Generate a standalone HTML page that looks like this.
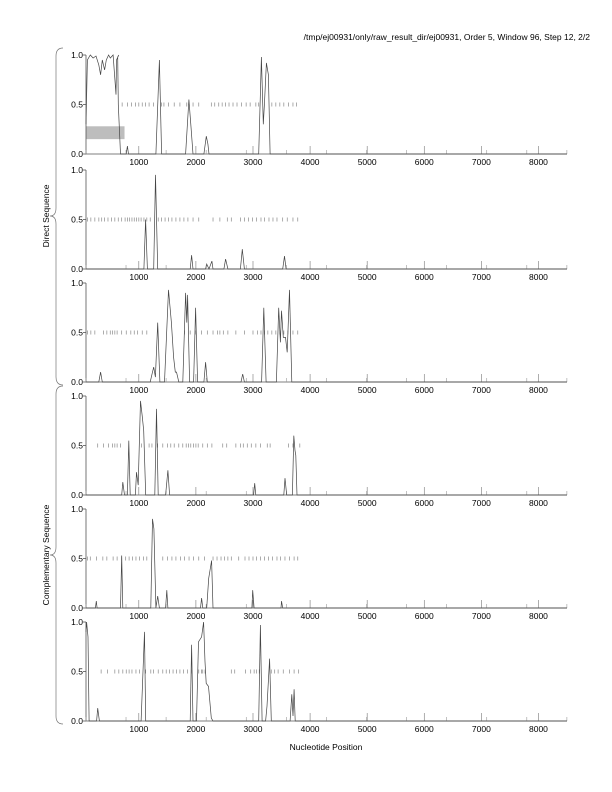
<!DOCTYPE html>
<html><head><meta charset="utf-8"><style>
html,body{margin:0;padding:0;background:#fff;}
svg{display:block;font-family:"Liberation Sans",sans-serif;}
</style></head><body>
<svg id="c" width="612" height="792" viewBox="0 0 612 792">
<text x="590" y="40" font-size="8.5" text-anchor="end" fill="#000">/tmp/ej00931/only/raw_result_dir/ej00931, Order 5, Window 96, Step 12, 2/2</text>
<text transform="translate(49,216) rotate(-90)" font-size="8.5" text-anchor="middle">Direct Sequence</text>
<text transform="translate(49,555) rotate(-90)" font-size="8.5" text-anchor="middle">Complementary Sequence</text>
<text x="326" y="750" font-size="8.5" text-anchor="middle">Nucleotide Position</text>
<path d="M63,48 Q56,48 56,56 L56,208 Q56,216 50,216 Q56,216 56,224 L56,377 Q56,385 63,385" fill="none" stroke="#777" stroke-width="0.7"/>
<path d="M63,386 Q56,386 56,394 L56,547 Q56,555 50,555 Q56,555 56,563 L56,716 Q56,724 63,724" fill="none" stroke="#777" stroke-width="0.7"/>
<g id="plots"></g>
</svg>
<script>
const xTicks = [1000,2000,3000,4000,5000,6000,7000,8000];
const yTicks = [0,0.5,1.0];
const p1x = [75,100,150,200,250,300,330,360,400,430,470,500,550,600,610,650,630,640,680,690,780,800,820,1300,1360,1400,1820,1877,1910,1950,2140,2182,2210,2230,3100,3147,3180,3200,3235,3270,3300,8500];
const p1y = [0.3,0.95,1.0,0.97,0.99,0.9,0.8,0.95,0.85,0.95,1.0,0.97,1.0,0.6,0.95,1.0,0.98,0.5,0,0,0,0.08,0,0,0.95,0,0,0.55,0.3,0,0,0.18,0.1,0,0,0.98,0.3,0.5,0.92,0.8,0,0];
const p2x = [75,1090,1119,1150,1260,1293,1330,1900,1925,1950,2170,2190,2230,2280,2300,2490,2521,2560,2780,2813,2850,3520,3551,3580,8500];
const p2y = [0,0,0.5,0,0,0.95,0,0,0.14,0,0,0.05,0,0.08,0,0,0.1,0,0,0.2,0,0,0.13,0,0];
const p3x = [75,300,330,360,1200,1240,1260,1290,1330,1370,1450,1520,1570,1610,1640,1660,1700,1770,1820,1840,1855,1890,1960,1995,2030,2140,2170,2200,2790,2820,2850,3150,3190,3230,3410,3450,3480,3500,3530,3570,3600,3640,3680,8500];
const p3y = [0,0,0.1,0,0,0.1,0.15,0.05,0.6,0,0,0.93,0.6,0.25,0.1,0.1,0,0,0.9,0.6,0.88,0,0,0.75,0,0,0.2,0,0,0.08,0,0,0.75,0,0,0.75,0.4,0.72,0.45,0.45,0.3,0.93,0,0];
const p4x = [75,700,720,750,800,825,850,940,960,990,1030,1060,1085,1120,1280,1310,1340,1470,1510,1540,3010,3030,3050,3540,3560,3590,3690,3715,3735,3750,3770,8500];
const p4y = [0,0,0.13,0,0,0.55,0,0,0.23,0.1,0.95,0.8,0.65,0,0,0.87,0,0,0.25,0,0,0.12,0,0,0.17,0,0,0.6,0.45,0.4,0,0];
const p5x = [75,240,255,270,680,700,720,1210,1240,1265,1300,1330,1360,1470,1490,1510,2080,2100,2120,2190,2225,2275,2300,2980,2995,3020,3490,3500,3520,8500];
const p5y = [0,0,0.07,0,0,0.53,0,0,0.9,0.8,0,0.12,0,0,0.18,0,0,0.1,0,0,0.3,0.48,0,0,0.18,0,0,0.07,0,0];
const p6x = [75,85,110,130,260,280,310,1040,1100,1120,1900,1925,1950,2010,2045,2100,2135,2160,2180,2220,2270,2300,3100,3130,3160,3220,3245,3290,3320,3650,3680,3700,3720,3740,8500];
const p6y = [0.9,1.0,0.85,0,0,0.13,0,0,0.9,0,0,0.77,0,0,0.8,0.85,1.0,0.6,0.38,0.35,0.03,0,0,0.97,0,0,0.15,0.63,0,0,0.27,0.05,0.32,0,0];
const d1 = [708,800,870,940,1000,1060,1120,1180,1260,1400,1440,1520,1620,1720,1840,1950,2050,2270,2330,2400,2460,2520,2580,2650,2720,2800,2880,2950,3050,3100,3330,3400,3470,3540,3620,3700,3761];
const d2 = [100,160,230,300,350,400,460,520,580,640,700,760,800,840,880,920,960,1000,1040,1090,1140,1200,1340,1400,1460,1520,1580,1650,1720,1790,1860,1950,2050,2300,2420,2550,2620,2780,2850,2920,2990,3060,3140,3200,3280,3350,3420,3520,3600,3700,3784];
const d3 = [100,160,230,380,440,500,540,580,620,700,780,860,920,980,1060,1140,1800,1900,2000,2100,2200,2300,2380,2420,2480,2560,2700,2850,3000,3080,3140,3200,3260,3330,3400,3470,3540,3610,3700,3784];
const d4 = [280,380,470,540,580,620,680,1050,1180,1230,1330,1420,1500,1560,1620,1700,1770,1830,1870,1910,1960,2000,2040,2120,2200,2280,2470,2540,2700,2780,2830,2900,2970,3050,3130,3250,3300,3620,3700,3820];
const d5 = [100,150,260,370,440,550,620,700,770,830,890,950,1010,1080,1140,1420,1500,1580,1650,1730,1800,1880,1960,2050,2150,2300,2370,2440,2500,2560,2620,2750,2860,2930,3000,3060,3130,3200,3270,3340,3420,3480,3560,3640,3720,3784];
const d6 = [340,450,580,650,720,780,830,880,950,1010,1120,1210,1260,1340,1420,1480,1540,1600,1660,1720,1780,1850,1920,2050,2100,2120,2160,2620,2680,2870,2960,3020,3060,3110,3320,3380,3440,3530,3640,3720,3800];
const xMin = 75, xMax = 8500;
const panels = [[55,p1x,p1y,d1],[170,p2x,p2y,d2],[283,p3x,p3y,d3],[396,p4x,p4y,d4],[509,p5x,p5y,d5],[622,p6x,p6y,d6]];
const NS='http://www.w3.org/2000/svg';
const L=86, R=567, H=99;
function xs(v){return L+(v-xMin)/(xMax-xMin)*(R-L);}
const g=document.getElementById('plots');
function mk(t,a,parent){const e=document.createElementNS(NS,t);for(const k in a)e.setAttribute(k,a[k]);(parent||g).appendChild(e);return e;}
panels.forEach((p,i)=>{
  const top=p[0], bot=top+H;
  const ys=v=>bot-v*H;
  const pg=mk('g',{});
  
  
  if(i===0){
    const r=mk('rect',{x:xs(75),y:ys(0.28),width:xs(750)-xs(75),height:ys(0.15)-ys(0.28),fill:'#bdbdbd'},pg);
    
    
  }
  const ax=mk('path',{d:`M${L},${top} L${L},${bot} L${R},${bot}`,fill:'none',stroke:'#555','stroke-width':0.8},pg);
  
  
  yTicks.forEach(v=>{
    mk('line',{x1:L-3,x2:L,y1:ys(v),y2:ys(v),stroke:'#555','stroke-width':0.8},pg);
    const t=mk('text',{x:L-3,y:ys(v)+3,'font-size':8.5,'text-anchor':'end'},pg);
    t.textContent=v.toFixed(1);
    
    
  });
  xTicks.forEach(v=>{
    mk('line',{x1:xs(v),x2:xs(v),y1:bot,y2:bot-8,stroke:'#777','stroke-width':0.6},pg);
    const t=mk('text',{x:xs(v),y:bot+11,'font-size':8.5,'text-anchor':'middle'},pg);
    t.textContent=v;
    
    
  });
  for(let v=74;v<=8500;v+=702){mk('line',{x1:xs(v),x2:xs(v),y1:bot,y2:bot-4,stroke:'#999','stroke-width':0.6},pg);}
  p[3].forEach(v=>{
    const d=mk('line',{x1:xs(v),x2:xs(v),y1:ys(0.5)-2,y2:ys(0.5)+2,stroke:'#888','stroke-width':0.7},pg);
    
    
  });
  let d='';
  p[1].forEach((v,k)=>{d+=(k?'L':'M')+xs(v).toFixed(1)+','+ys(p[2][k]).toFixed(1);});
  const ln=mk('path',{d:d,fill:'none',stroke:'#444','stroke-width':0.7},pg);
  
  
});
</script>
</body></html>
